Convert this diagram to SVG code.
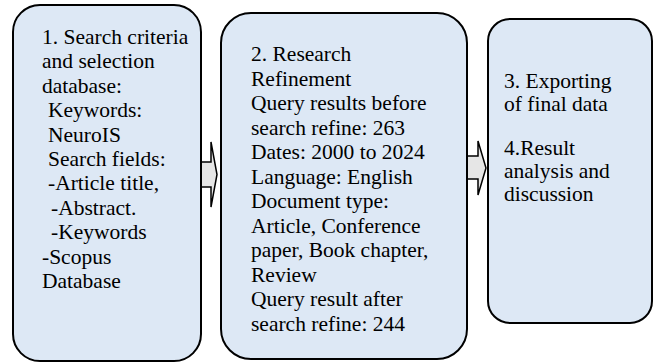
<svg xmlns="http://www.w3.org/2000/svg" width="653" height="362" viewBox="0 0 653 362">
<style>
.box{fill:#dde8f5;stroke:#000;stroke-width:2}
.arr{fill:#e6e6e6;stroke:#000;stroke-width:1.5;stroke-linejoin:miter}
text{font-family:"Liberation Serif","Times New Roman",serif;font-size:21.5px;fill:#000}
</style>
<rect width="653" height="362" fill="#fff"/>
<g id="connectors">
<path class="arr" d="M201,162 H211 V142 L217,174.5 L211,207 V187 H201"/>
<path class="arr" d="M467,156 H478 V141 L486,168 L478,195 V179 H467"/>
</g>
<g id="node1">
<rect class="box" x="13" y="5" width="188" height="356" rx="27"/>
<text>
<tspan x="42" y="44">1. Search criteria</tspan>
<tspan x="42" y="68.4">and selection</tspan>
<tspan x="42" y="92.8">database:</tspan>
<tspan x="48" y="117.2">Keywords:</tspan>
<tspan x="48" y="141.6">NeuroIS</tspan>
<tspan x="48" y="166">Search fields:</tspan>
<tspan x="48" y="190.4">-Article title,</tspan>
<tspan x="51" y="214.8">-Abstract.</tspan>
<tspan x="51" y="239.2">-Keywords</tspan>
<tspan x="42" y="263.6">-Scopus</tspan>
<tspan x="42" y="288">Database</tspan>
</text>
</g>
<g id="node2">
<rect class="box" x="221" y="13" width="246" height="346" rx="30"/>
<text>
<tspan x="251" y="61">2. Research</tspan>
<tspan x="251" y="85.5">Refinement</tspan>
<tspan x="251" y="110">Query results before</tspan>
<tspan x="251" y="134.5">search refine: 263</tspan>
<tspan x="251" y="159">Dates: 2000 to 2024</tspan>
<tspan x="251" y="183.5">Language: English</tspan>
<tspan x="251" y="208">Document type:</tspan>
<tspan x="251" y="232.5">Article, Conference</tspan>
<tspan x="251" y="257">paper, Book chapter,</tspan>
<tspan x="251" y="281.5">Review</tspan>
<tspan x="251" y="306">Query result after</tspan>
<tspan x="251" y="330.5">search refine: 244</tspan>
</text>
</g>
<g id="node3">
<rect class="box" x="488" y="19" width="164" height="304" rx="22"/>
<text>
<tspan x="504" y="88">3. Exporting</tspan>
<tspan x="504" y="111">of final data</tspan>
<tspan x="504" y="155">4.Result</tspan>
<tspan x="504" y="178">analysis  and</tspan>
<tspan x="504" y="201">discussion</tspan>
</text>
</g>
</svg>
